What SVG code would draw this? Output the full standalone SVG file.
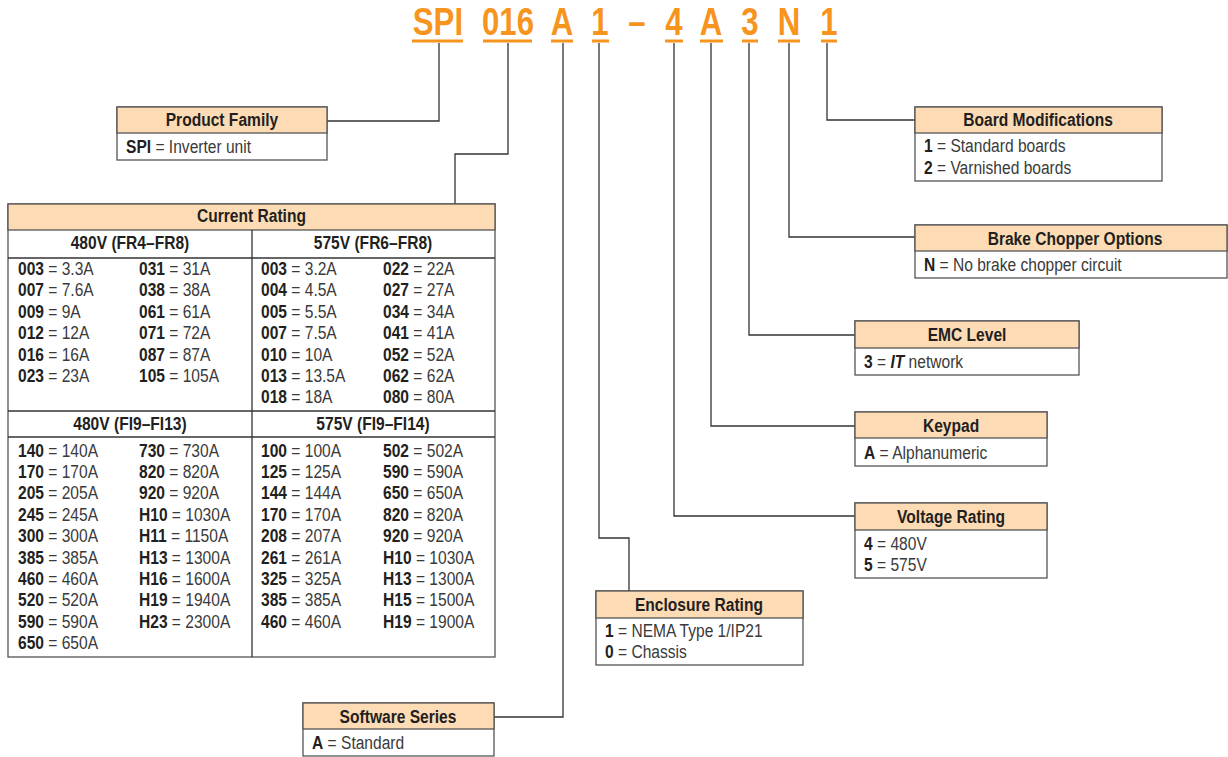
<svg xmlns="http://www.w3.org/2000/svg" width="1228" height="757" viewBox="0 0 1228 757">
<style>
text{font-family:"Liberation Sans",Arial,sans-serif;fill:#3a3a3a}
.code{font-size:38px;font-weight:bold;fill:#F7941D;text-anchor:middle}
.ul{stroke:#F7941D;stroke-width:3}
.hd{fill:#FDDCB5;stroke:#555;stroke-width:1.3}
.bd{fill:#fff;stroke:#555;stroke-width:1.3}
.ht{font-size:19px;font-weight:bold;fill:#231F20;text-anchor:middle}
.t{font-size:19px}
.b{font-weight:bold;fill:#231F20}
.ln{fill:none;stroke:#333;stroke-width:1.3}
</style>
<g id="code">
<g transform="scale(0.82 1)">
<text class="code" x="534.1" y="35.5">SPI</text>
<text class="code" x="619.5" y="35.5">016</text>
<text class="code" x="685.4" y="35.5">A</text>
<text class="code" x="731.7" y="35.5">1</text>
<text class="code" x="776.8" y="35.5">–</text>
<text class="code" x="822" y="35.5">4</text>
<text class="code" x="867.1" y="35.5">A</text>
<text class="code" x="914.6" y="35.5">3</text>
<text class="code" x="962.2" y="35.5">N</text>
<text class="code" x="1011" y="35.5">1</text>
</g>
<line class="ul" x1="412" y1="41" x2="463" y2="41"/>
<line class="ul" x1="483" y1="41" x2="532" y2="41"/>
<line class="ul" x1="551" y1="41" x2="573" y2="41"/>
<line class="ul" x1="592" y1="41" x2="609" y2="41"/>
<line class="ul" x1="665" y1="41" x2="683" y2="41"/>
<line class="ul" x1="700" y1="41" x2="723" y2="41"/>
<line class="ul" x1="742" y1="41" x2="758" y2="41"/>
<line class="ul" x1="778" y1="41" x2="800" y2="41"/>
<line class="ul" x1="821" y1="41" x2="837" y2="41"/>
</g>
<g id="connectors">
<path class="ln" d="M439 43V121H327"/>
<path class="ln" d="M508 43V154H455V204"/>
<path class="ln" d="M563 43V717H494"/>
<path class="ln" d="M599 43V538H629V591"/>
<path class="ln" d="M674 43V516H855"/>
<path class="ln" d="M711 43V426H855"/>
<path class="ln" d="M749 43V335H855"/>
<path class="ln" d="M789 43V237H915"/>
<path class="ln" d="M827 43V120H915"/>
</g>
<g id="product-family">
<rect class="bd" x="117" y="107" width="210" height="53"/>
<rect class="hd" x="117" y="107" width="210" height="26"/>
<g transform="scale(0.82 1)">
<text class="ht" x="270.7" y="126">Product Family</text>
<text class="t" x="153.7" y="153"><tspan class="b">SPI</tspan> = Inverter unit</text>
</g>
</g>
<g id="current-rating">
<rect class="bd" x="8" y="204" width="487" height="453"/>
<rect class="hd" x="8" y="204" width="487" height="26"/>
<line class="ln" x1="8" y1="258" x2="495" y2="258"/>
<line class="ln" x1="8" y1="411" x2="495" y2="411"/>
<line class="ln" x1="8" y1="437" x2="495" y2="437"/>
<line class="ln" x1="252" y1="230" x2="252" y2="657"/>
<g transform="scale(0.82 1)">
<text class="ht" x="306.7" y="222">Current Rating</text>
<text class="ht" x="158.5" y="249">480V (FR4–FR8)</text>
<text class="ht" x="454.9" y="249">575V (FR6–FR8)</text>
<text class="ht" x="158.5" y="430">480V (FI9–FI13)</text>
<text class="ht" x="454.9" y="430">575V (FI9–FI14)</text>
<text class="t" x="21.95" y="275"><tspan class="b">003</tspan> = 3.3A</text>
<text class="t" x="21.95" y="296"><tspan class="b">007</tspan> = 7.6A</text>
<text class="t" x="21.95" y="318"><tspan class="b">009</tspan> = 9A</text>
<text class="t" x="21.95" y="339"><tspan class="b">012</tspan> = 12A</text>
<text class="t" x="21.95" y="361"><tspan class="b">016</tspan> = 16A</text>
<text class="t" x="21.95" y="382"><tspan class="b">023</tspan> = 23A</text>
<text class="t" x="169.5" y="275"><tspan class="b">031</tspan> = 31A</text>
<text class="t" x="169.5" y="296"><tspan class="b">038</tspan> = 38A</text>
<text class="t" x="169.5" y="318"><tspan class="b">061</tspan> = 61A</text>
<text class="t" x="169.5" y="339"><tspan class="b">071</tspan> = 72A</text>
<text class="t" x="169.5" y="361"><tspan class="b">087</tspan> = 87A</text>
<text class="t" x="169.5" y="382"><tspan class="b">105</tspan> = 105A</text>
<text class="t" x="318.3" y="275"><tspan class="b">003</tspan> = 3.2A</text>
<text class="t" x="318.3" y="296"><tspan class="b">004</tspan> = 4.5A</text>
<text class="t" x="318.3" y="318"><tspan class="b">005</tspan> = 5.5A</text>
<text class="t" x="318.3" y="339"><tspan class="b">007</tspan> = 7.5A</text>
<text class="t" x="318.3" y="361"><tspan class="b">010</tspan> = 10A</text>
<text class="t" x="318.3" y="382"><tspan class="b">013</tspan> = 13.5A</text>
<text class="t" x="318.3" y="403"><tspan class="b">018</tspan> = 18A</text>
<text class="t" x="467.1" y="275"><tspan class="b">022</tspan> = 22A</text>
<text class="t" x="467.1" y="296"><tspan class="b">027</tspan> = 27A</text>
<text class="t" x="467.1" y="318"><tspan class="b">034</tspan> = 34A</text>
<text class="t" x="467.1" y="339"><tspan class="b">041</tspan> = 41A</text>
<text class="t" x="467.1" y="361"><tspan class="b">052</tspan> = 52A</text>
<text class="t" x="467.1" y="382"><tspan class="b">062</tspan> = 62A</text>
<text class="t" x="467.1" y="403"><tspan class="b">080</tspan> = 80A</text>
<text class="t" x="21.95" y="457"><tspan class="b">140</tspan> = 140A</text>
<text class="t" x="21.95" y="478"><tspan class="b">170</tspan> = 170A</text>
<text class="t" x="21.95" y="499"><tspan class="b">205</tspan> = 205A</text>
<text class="t" x="21.95" y="521"><tspan class="b">245</tspan> = 245A</text>
<text class="t" x="21.95" y="542"><tspan class="b">300</tspan> = 300A</text>
<text class="t" x="21.95" y="564"><tspan class="b">385</tspan> = 385A</text>
<text class="t" x="21.95" y="585"><tspan class="b">460</tspan> = 460A</text>
<text class="t" x="21.95" y="606"><tspan class="b">520</tspan> = 520A</text>
<text class="t" x="21.95" y="628"><tspan class="b">590</tspan> = 590A</text>
<text class="t" x="21.95" y="649"><tspan class="b">650</tspan> = 650A</text>
<text class="t" x="169.5" y="457"><tspan class="b">730</tspan> = 730A</text>
<text class="t" x="169.5" y="478"><tspan class="b">820</tspan> = 820A</text>
<text class="t" x="169.5" y="499"><tspan class="b">920</tspan> = 920A</text>
<text class="t" x="169.5" y="521"><tspan class="b">H10</tspan> = 1030A</text>
<text class="t" x="169.5" y="542"><tspan class="b">H11</tspan> = 1150A</text>
<text class="t" x="169.5" y="564"><tspan class="b">H13</tspan> = 1300A</text>
<text class="t" x="169.5" y="585"><tspan class="b">H16</tspan> = 1600A</text>
<text class="t" x="169.5" y="606"><tspan class="b">H19</tspan> = 1940A</text>
<text class="t" x="169.5" y="628"><tspan class="b">H23</tspan> = 2300A</text>
<text class="t" x="318.3" y="457"><tspan class="b">100</tspan> = 100A</text>
<text class="t" x="318.3" y="478"><tspan class="b">125</tspan> = 125A</text>
<text class="t" x="318.3" y="499"><tspan class="b">144</tspan> = 144A</text>
<text class="t" x="318.3" y="521"><tspan class="b">170</tspan> = 170A</text>
<text class="t" x="318.3" y="542"><tspan class="b">208</tspan> = 207A</text>
<text class="t" x="318.3" y="564"><tspan class="b">261</tspan> = 261A</text>
<text class="t" x="318.3" y="585"><tspan class="b">325</tspan> = 325A</text>
<text class="t" x="318.3" y="606"><tspan class="b">385</tspan> = 385A</text>
<text class="t" x="318.3" y="628"><tspan class="b">460</tspan> = 460A</text>
<text class="t" x="467.1" y="457"><tspan class="b">502</tspan> = 502A</text>
<text class="t" x="467.1" y="478"><tspan class="b">590</tspan> = 590A</text>
<text class="t" x="467.1" y="499"><tspan class="b">650</tspan> = 650A</text>
<text class="t" x="467.1" y="521"><tspan class="b">820</tspan> = 820A</text>
<text class="t" x="467.1" y="542"><tspan class="b">920</tspan> = 920A</text>
<text class="t" x="467.1" y="564"><tspan class="b">H10</tspan> = 1030A</text>
<text class="t" x="467.1" y="585"><tspan class="b">H13</tspan> = 1300A</text>
<text class="t" x="467.1" y="606"><tspan class="b">H15</tspan> = 1500A</text>
<text class="t" x="467.1" y="628"><tspan class="b">H19</tspan> = 1900A</text>
</g>
</g>
<g id="board-modifications">
<rect class="bd" x="915" y="107" width="247" height="74"/>
<rect class="hd" x="915" y="107" width="247" height="26"/>
<g transform="scale(0.82 1)">
<text class="ht" x="1265.9" y="126">Board Modifications</text>
<text class="t" x="1126.8" y="152"><tspan class="b">1</tspan> = Standard boards</text>
<text class="t" x="1126.8" y="174"><tspan class="b">2</tspan> = Varnished boards</text>
</g>
</g>
<g id="brake-chopper">
<rect class="bd" x="915" y="225" width="312" height="53"/>
<rect class="hd" x="915" y="225" width="312" height="26"/>
<g transform="scale(0.82 1)">
<text class="ht" x="1311" y="245">Brake Chopper Options</text>
<text class="t" x="1126.8" y="271"><tspan class="b">N</tspan> = No brake chopper circuit</text>
</g>
</g>
<g id="emc-level">
<rect class="bd" x="855" y="321" width="224" height="54"/>
<rect class="hd" x="855" y="321" width="224" height="27"/>
<g transform="scale(0.82 1)">
<text class="ht" x="1179.3" y="341">EMC Level</text>
<text class="t" x="1053.7" y="368"><tspan class="b">3</tspan> = <tspan class="b" font-style="italic">IT</tspan> network</text>
</g>
</g>
<g id="keypad">
<rect class="bd" x="855" y="412" width="192" height="54"/>
<rect class="hd" x="855" y="412" width="192" height="26"/>
<g transform="scale(0.82 1)">
<text class="ht" x="1159.8" y="432">Keypad</text>
<text class="t" x="1053.7" y="459"><tspan class="b">A</tspan> = Alphanumeric</text>
</g>
</g>
<g id="voltage-rating">
<rect class="bd" x="855" y="503" width="192" height="75"/>
<rect class="hd" x="855" y="503" width="192" height="27"/>
<g transform="scale(0.82 1)">
<text class="ht" x="1159.8" y="523">Voltage Rating</text>
<text class="t" x="1053.7" y="550"><tspan class="b">4</tspan> = 480V</text>
<text class="t" x="1053.7" y="571"><tspan class="b">5</tspan> = 575V</text>
</g>
</g>
<g id="enclosure-rating">
<rect class="bd" x="596" y="591" width="207" height="74"/>
<rect class="hd" x="596" y="591" width="207" height="27"/>
<g transform="scale(0.82 1)">
<text class="ht" x="852.4" y="611">Enclosure Rating</text>
<text class="t" x="737.8" y="637"><tspan class="b">1</tspan> = NEMA Type 1/IP21</text>
<text class="t" x="737.8" y="658"><tspan class="b">0</tspan> = Chassis</text>
</g>
</g>
<g id="software-series">
<rect class="bd" x="303" y="703" width="191" height="53"/>
<rect class="hd" x="303" y="703" width="191" height="26"/>
<g transform="scale(0.82 1)">
<text class="ht" x="485.4" y="723">Software Series</text>
<text class="t" x="380.5" y="749"><tspan class="b">A</tspan> = Standard</text>
</g>
</g>
</svg>
